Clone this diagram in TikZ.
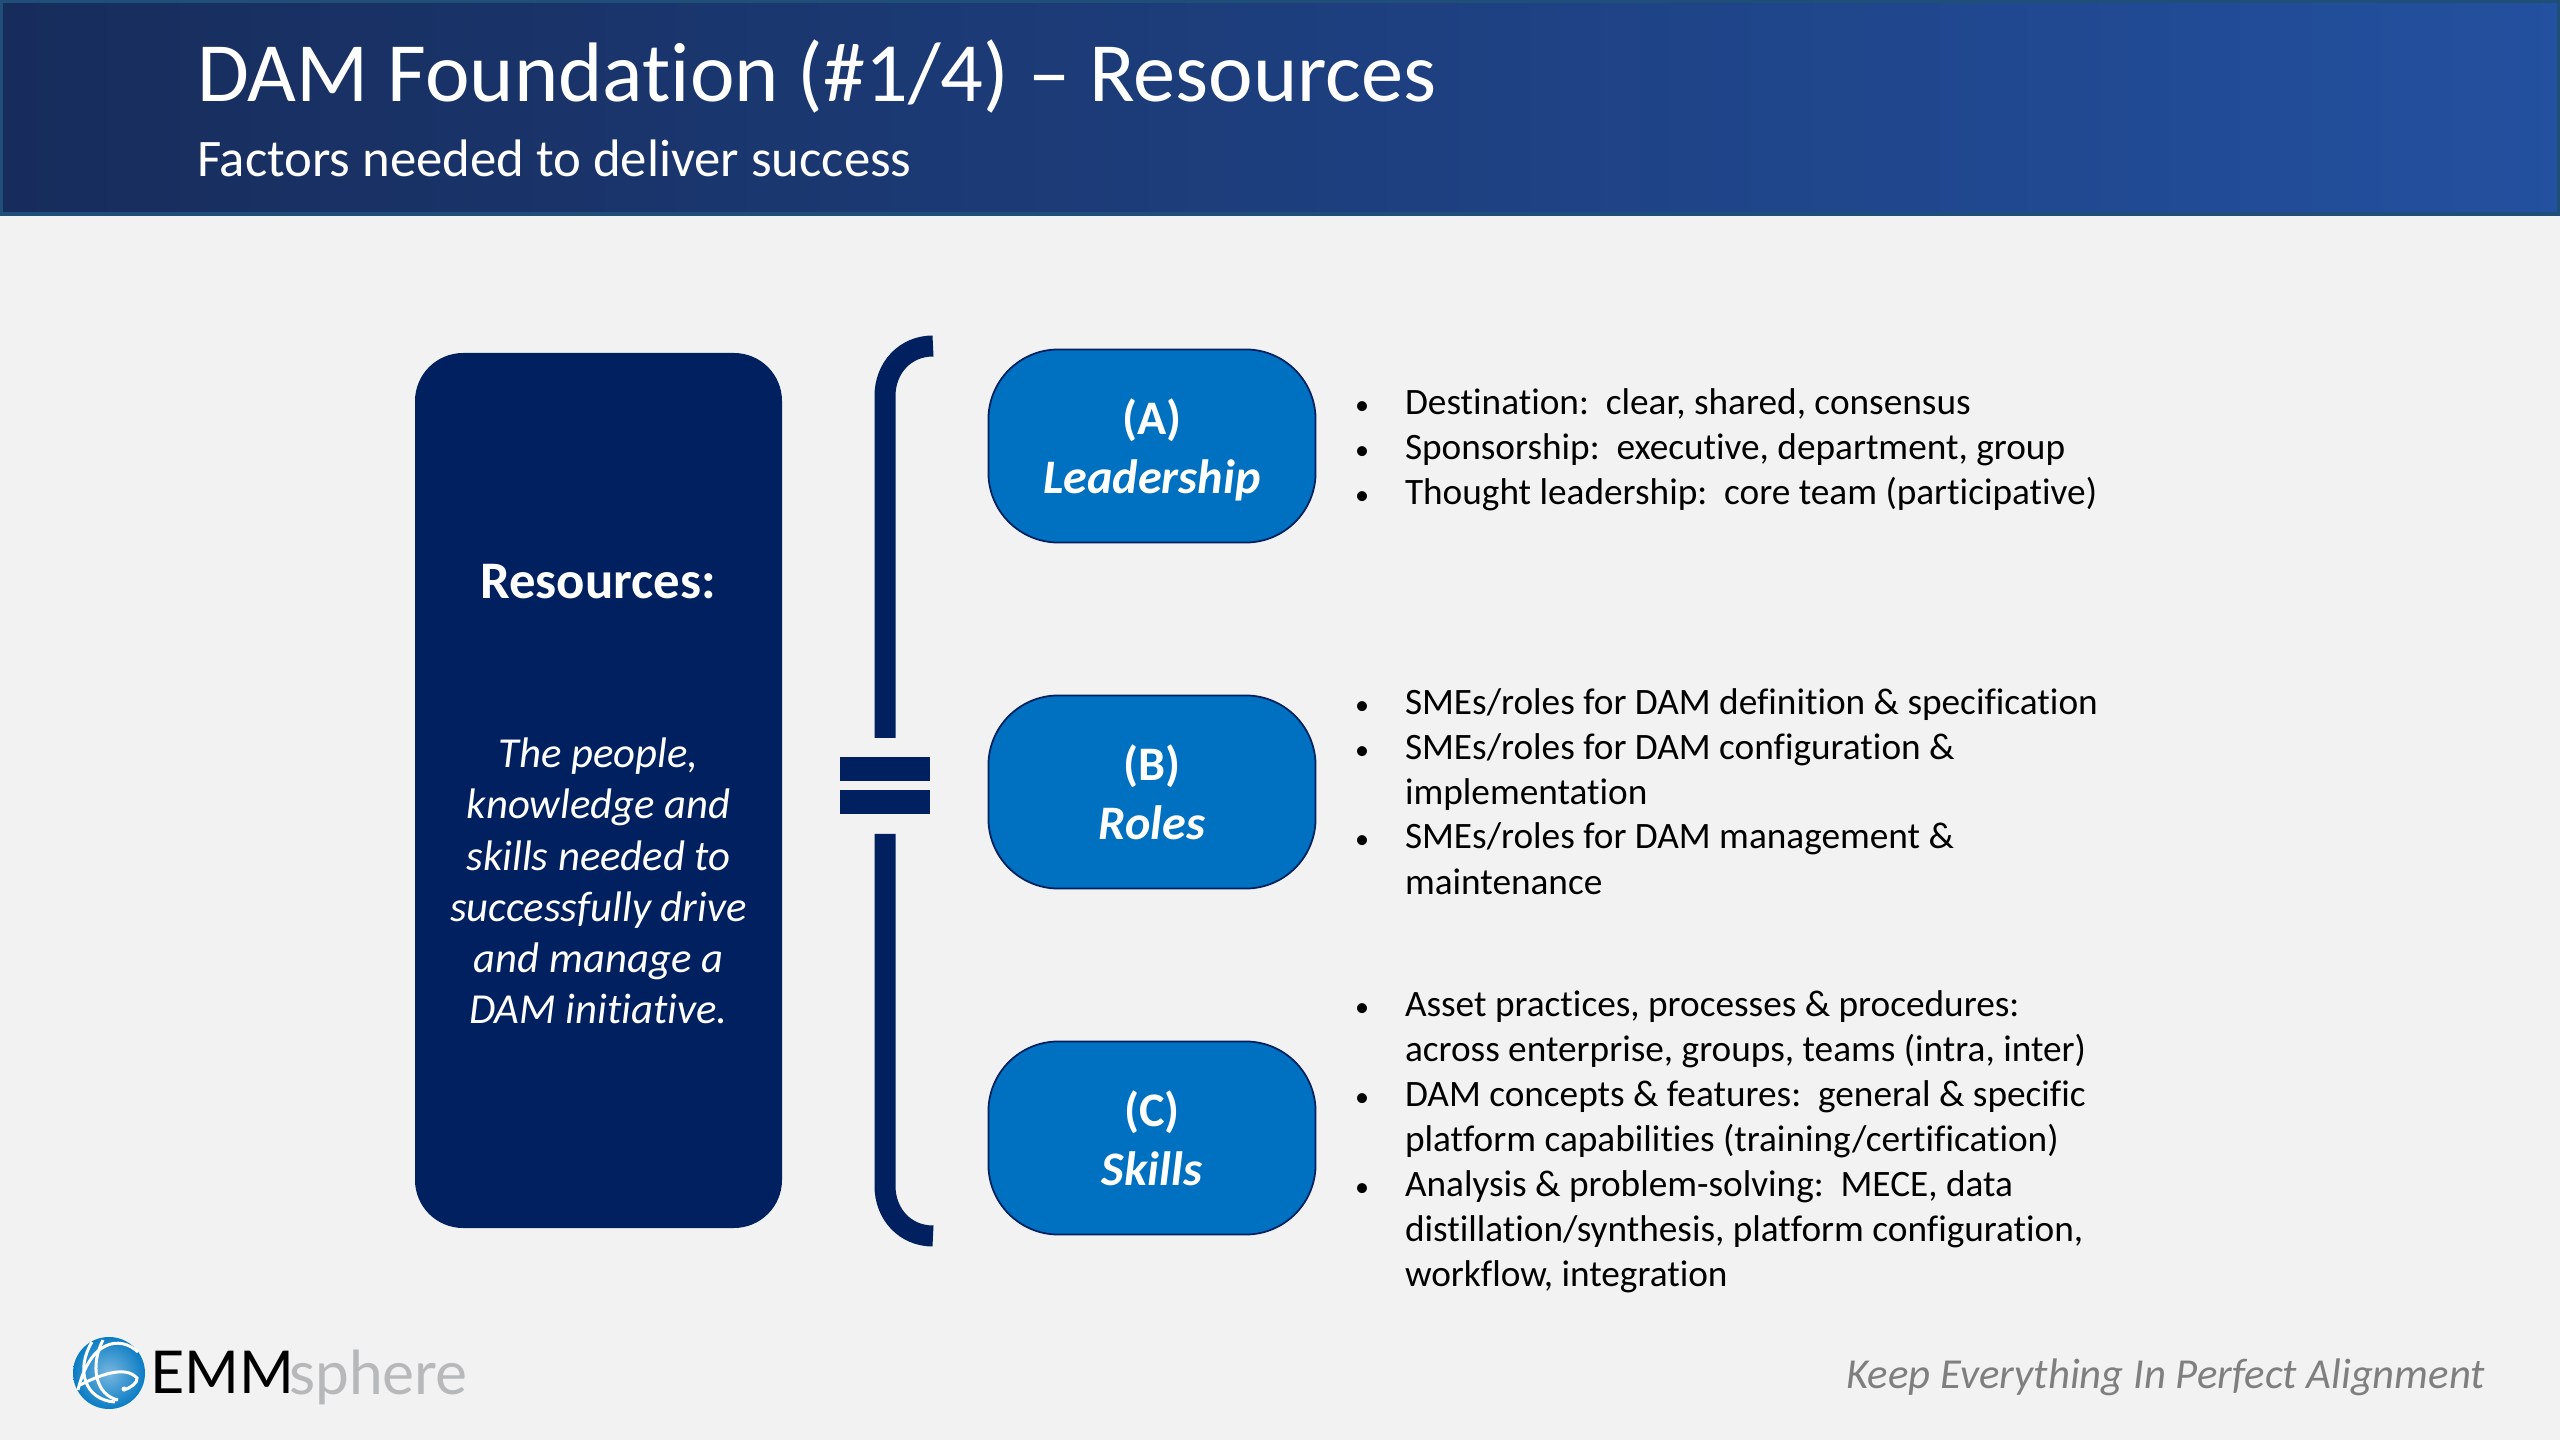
\documentclass[tikz,border=0pt]{standalone}
\usepackage{fontspec}
\setmainfont{Carlito}[Ligatures=NoCommon]
\newfontfamily\logofont{Lato}
\usepackage{xcolor}
\definecolor{pagegray}{HTML}{F2F2F2}
\definecolor{navy}{HTML}{002060}
\definecolor{midblue}{HTML}{0070C0}
\definecolor{bandleft}{HTML}{172C5B}
\definecolor{bandright}{HTML}{23509F}
\definecolor{bandline}{HTML}{1F4E79}
\definecolor{tagline}{HTML}{7F7F7F}
\definecolor{logoblue}{HTML}{0A7CC4}
\definecolor{logogray}{HTML}{B6B8BA}
\newcommand{\fsz}[2]{\fontsize{#1pt}{#2pt}\selectfont}
\newcommand{\pilltext}[2]{\rule{0pt}{13.5pt}#1\\\rule[-3.5pt]{0pt}{3.5pt}\textit{#2}}

\begin{document}
\begin{tikzpicture}[x=0.01cm, y=-0.01cm,
    every node/.style={inner sep=0pt, outer sep=0pt},
    pillbox/.style={draw=navy, line width=0.5pt, fill=midblue, rounded corners=0.7cm,
      text=white, minimum width=3.27cm, minimum height=1.93cm, align=center,
      font=\fsz{13.7}{16.8}\bfseries},
    itemtext/.style={anchor=base west, font=\fsz{10.6}{12.8}, text=black},
    itemdot/.style={anchor=base, font=\fsz{8}{10}, text=black},
    hookline/.style={draw=navy, line width=0.21cm},
    eqbar/.style={fill=navy}]
  \useasboundingbox (0,0) rectangle (2560,1440);
  \fill[pagegray] (0,0) rectangle (2560,1440);

  % header band
  \fill[left color=bandleft, right color=bandright] (0,0) rectangle (2560,215);
  \draw[bandline, line width=0.04cm] (1,1) rectangle (2559,214);
  \node[anchor=base west, text=white, font=\fsz{24}{28}] (title) at (197,102) {DAM Foundation (\#1/4) – Resources};
  \node[anchor=base west, text=white, font=\fsz{15}{18}] (subtitle) at (197,177) {Factors needed to deliver success};

  % left panel
  \fill[navy, rounded corners=0.48cm] (415,353) rectangle (782,1228);
  \node[text=white, font=\fsz{15}{18}\bfseries] (heading) at (598,582) {Resources:};
  \node[text=white, font=\fsz{12.15}{14.55}\itshape, align=center] (blurb) at (598.5,881)
    {The people,\\knowledge and\\skills needed to\\successfully drive\\and manage a\\DAM initiative.};

  % bracket
  \draw[hookline] (933,346) .. controls (905,346) and (885,368) .. (885,396) -- (885,738);
  \draw[hookline] (885,834) -- (885,1186) .. controls (885,1214) and (905,1236) .. (933,1236);
  \fill[eqbar] (840,757) rectangle (930,781);
  \fill[eqbar] (840,790) rectangle (930,814);

  % pills
  \node[pillbox] (leadership) at (1152,446) {\pilltext{(A)}{Leadership}};
  \node[pillbox] (roles) at (1152,792) {\pilltext{(B)}{Roles}};
  \node[pillbox] (skills) at (1152,1138) {\pilltext{(C)}{Skills}};

  % bullet lists
  \foreach \ypos in {415,460,505,715,760,849,1016,1106,1196}
    \node[itemdot] (dot\ypos) at (1362,\ypos) {•};
  \foreach \ypos/\txt in {
      415/{Destination:~~clear, shared, consensus},
      460/{Sponsorship:~~executive, department, group},
      505/{Thought leadership:~~core team (participative)},
      715/{SMEs/roles for DAM definition \& specification},
      760/{SMEs/roles for DAM configuration \&},
      805/{implementation},
      849/{SMEs/roles for DAM management \&},
      894/{maintenance},
      1016/{Asset practices, processes \& procedures:},
      1061/{across enterprise, groups, teams (intra, inter)},
      1106/{DAM concepts \& features:~~general \& specific},
      1151/{platform capabilities (training/certification)},
      1196/{Analysis \& problem-solving:~~MECE, data},
      1241/{distillation/synthesis, platform configuration,},
      1286/{workflow, integration}}
    \node[itemtext] (item\ypos) at (1405,\ypos) {\txt};

  % logo
  \shade[inner color=logoblue!55!white, outer color=logoblue] (109,1373) circle (36);
  \draw[white, line width=0.03cm] (78,1390) .. controls (90,1340) and (120,1335) .. (138,1352);
  \draw[white, line width=0.03cm] (80,1385) .. controls (100,1375) and (125,1365) .. (137,1378) .. controls (138,1383) and (130,1388) .. (124,1390);
  \draw[white, line width=0.03cm] (92,1342) .. controls (75,1370) and (85,1400) .. (115,1402);
  \draw[white, line width=0.03cm] (103,1340) .. controls (90,1365) and (95,1395) .. (118,1400);
  \fill[white] (124,1389) circle (2.5);
  \node[anchor=base west, text=black, font=\logofont\fsz{16.8}{20}] (emm) at (150,1393) {EMM};
  \node[anchor=base west, text=logogray, font=\logofont\fsz{17.2}{20}] (sphere) at (289,1394) {sphere};

  \node[anchor=base east, text=tagline, font=\fsz{12.15}{14.5}\itshape] (tagtext) at (2485,1388) {Keep Everything In Perfect Alignment};
\end{tikzpicture}
\end{document}
